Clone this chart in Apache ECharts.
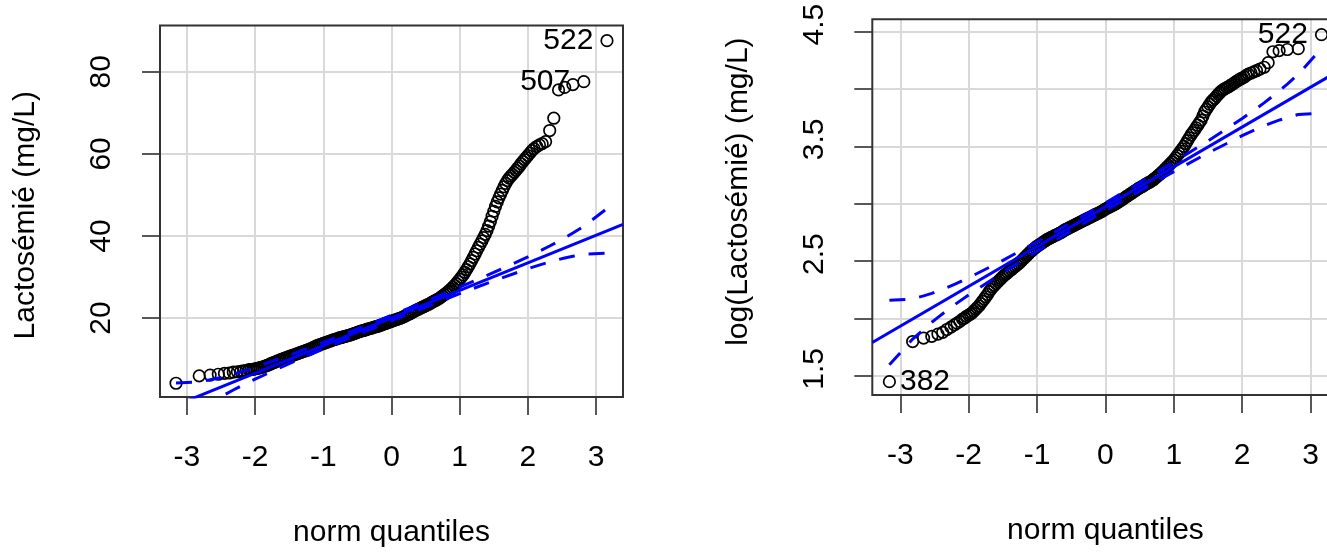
<!DOCTYPE html>
<html>
<head>
<meta charset="utf-8">
<script src="https://cdn.jsdelivr.net/npm/echarts@6/dist/echarts.min.js"></script>
<style>
  html, body { margin: 0; padding: 0; background: #fff; overflow: hidden; }
  /* the right panel runs past the window edge, as in the original screenshot */
  #main { width: 1340px; height: 553px; }
</style>
</head>
<body>
<div id="main"></div>
<script>
// theoretical normal quantiles of the plotted observations (same for both panels)
const quantiles = [
  -3.16, -2.82, -2.66, -2.54, -2.45, -2.38, -2.32, -2.26, -2.21, -2.17, -2.13, -2.09, -2.06, -2.03,
  -2.0, -1.975, -1.95, -1.925, -1.9, -1.875, -1.85, -1.825, -1.8, -1.775,
  -1.75, -1.725, -1.7, -1.675, -1.65, -1.625, -1.6, -1.575, -1.55, -1.525,
  -1.5, -1.475, -1.45, -1.425, -1.4, -1.375, -1.35, -1.325, -1.3, -1.275,
  -1.25, -1.225, -1.2, -1.175, -1.15, -1.125, -1.1, -1.075, -1.05, -1.025,
  -1.0, -0.975, -0.95, -0.925, -0.9, -0.875, -0.85, -0.825, -0.8, -0.775,
  -0.75, -0.725, -0.7, -0.675, -0.65, -0.625, -0.6, -0.575, -0.55, -0.525,
  -0.5, -0.475, -0.45, -0.425, -0.4, -0.375, -0.35, -0.325, -0.3, -0.275,
  -0.25, -0.225, -0.2, -0.175, -0.15, -0.125, -0.1, -0.075, -0.05, -0.025,
  0, 0.025, 0.05, 0.075, 0.1, 0.125, 0.15, 0.175, 0.2, 0.225,
  0.25, 0.275, 0.3, 0.325, 0.35, 0.375, 0.4, 0.425, 0.45, 0.475,
  0.5, 0.525, 0.55, 0.575, 0.6, 0.625, 0.65, 0.675, 0.7, 0.725,
  0.75, 0.775, 0.8, 0.825, 0.85, 0.875, 0.9, 0.925, 0.95, 0.975,
  1.0, 1.025, 1.05, 1.075, 1.1, 1.125, 1.15, 1.175, 1.2, 1.225,
  1.25, 1.275, 1.3, 1.325, 1.35, 1.375, 1.4, 1.425, 1.45, 1.475,
  1.5, 1.525, 1.55, 1.575, 1.6, 1.625, 1.65, 1.675, 1.7, 1.725,
  1.75, 1.775, 1.8, 1.825, 1.85, 1.875, 1.9, 1.925, 1.95, 1.975, 2.0,
  2.03, 2.06, 2.09, 2.13, 2.17, 2.21, 2.26, 2.32, 2.38, 2.45, 2.54, 2.66, 2.82, 3.16
];

// Lactosémié (mg/L)
const lactose = [
  4.1, 5.9, 6.1, 6.3, 6.5, 6.6, 6.8, 6.9, 7.0, 7.1, 7.2, 7.4, 7.45, 7.5,
  7.6, 7.7, 7.8, 7.9, 8.0, 8.15, 8.3, 8.45, 8.6, 8.8,
  9.0, 9.15, 9.3, 9.5, 9.7, 9.85, 10.0, 10.15, 10.3, 10.45,
  10.6, 10.75, 10.9, 11.05, 11.2, 11.35, 11.5, 11.65, 11.8, 11.95,
  12.1, 12.25, 12.4, 12.6, 12.8, 13.0, 13.2, 13.35, 13.5, 13.65,
  13.8, 13.95, 14.1, 14.25, 14.4, 14.55, 14.7, 14.8, 14.95, 15.1,
  15.2, 15.3, 15.45, 15.55, 15.65, 15.8, 15.9, 16.05, 16.2, 16.35,
  16.5, 16.65, 16.8, 16.9, 17.0, 17.15, 17.3, 17.4, 17.5, 17.65,
  17.8, 17.9, 18.0, 18.15, 18.3, 18.45, 18.6, 18.75, 18.9, 19.05,
  19.2, 19.35, 19.5, 19.65, 19.8, 19.95, 20.1, 20.3, 20.5, 20.7,
  20.9, 21.1, 21.3, 21.55, 21.8, 22.0, 22.2, 22.4, 22.6, 22.8,
  23.0, 23.2, 23.4, 23.65, 23.9, 24.1, 24.3, 24.55, 24.8, 25.1,
  25.4, 25.7, 26.0, 26.35, 26.7, 27.1, 27.5, 27.95, 28.4, 28.9,
  29.4, 29.95, 30.5, 31.15, 31.8, 32.5, 33.2, 34.0, 34.8, 35.6,
  36.4, 37.2, 38.0, 38.8, 39.6, 40.4, 41.3, 42.4, 43.5, 44.8,
  46.0, 47.2, 48.3, 49.3, 50.2, 51.1, 52.0, 52.8, 53.5, 54.1,
  54.6, 55.0, 55.5, 56.0, 56.5, 57.0, 57.6, 58.1, 58.6, 59.1, 59.6,
  60.2, 60.8, 61.3, 61.8, 62.2, 62.5, 63.0, 65.7, 68.7, 75.6, 76.2, 76.9, 77.6, 87.6
];

// log(Lactosémié)
const logLactose = [
  1.45, 1.80, 1.83, 1.845, 1.865, 1.88, 1.905, 1.925, 1.945, 1.96, 1.975, 1.995, 2.005, 2.02,
  2.03, 2.04, 2.05, 2.065, 2.08, 2.095, 2.11, 2.13, 2.15, 2.17,
  2.19, 2.21, 2.235, 2.255, 2.275, 2.29, 2.305, 2.32, 2.335, 2.35,
  2.365, 2.378, 2.39, 2.403, 2.415, 2.428, 2.44, 2.453, 2.465, 2.478,
  2.49, 2.505, 2.52, 2.535, 2.55, 2.565, 2.58, 2.593, 2.605, 2.618,
  2.63, 2.64, 2.65, 2.66, 2.67, 2.68, 2.69, 2.698, 2.705, 2.713,
  2.72, 2.728, 2.735, 2.743, 2.75, 2.76, 2.77, 2.778, 2.785, 2.793,
  2.80, 2.808, 2.815, 2.823, 2.83, 2.838, 2.845, 2.853, 2.86, 2.868,
  2.875, 2.883, 2.89, 2.898, 2.905, 2.913, 2.92, 2.928, 2.935, 2.945,
  2.955, 2.963, 2.97, 2.978, 2.985, 2.993, 3.0, 3.01, 3.02, 3.03,
  3.04, 3.05, 3.06, 3.07, 3.08, 3.09, 3.10, 3.11, 3.12, 3.13,
  3.14, 3.148, 3.155, 3.165, 3.175, 3.183, 3.19, 3.2, 3.21, 3.223,
  3.235, 3.248, 3.26, 3.275, 3.29, 3.305, 3.32, 3.335, 3.35, 3.365,
  3.38, 3.40, 3.42, 3.44, 3.46, 3.48, 3.50, 3.525, 3.55, 3.575,
  3.60, 3.62, 3.64, 3.663, 3.685, 3.708, 3.73, 3.765, 3.80, 3.823,
  3.845, 3.868, 3.89, 3.905, 3.92, 3.938, 3.955, 3.97, 3.985, 3.995,
  4.005, 4.013, 4.02, 4.03, 4.04, 4.05, 4.06, 4.07, 4.08, 4.088, 4.095,
  4.105, 4.12, 4.13, 4.14, 4.15, 4.16, 4.175, 4.19, 4.23, 4.325, 4.335, 4.345, 4.352, 4.474
];

// identified observations: [quantile, id]
const idsLeft = [[3.16, '522'], [2.82, '507']];
const idsRight = [[3.16, '522'], [-3.16, '382']];

// robust reference lines
const fitLeft = { intercept: 20.0, slope: 6.726 };
const fitRight = { intercept: 2.975, slope: 0.347 };

// pointwise confidence envelope
const envQ = [-3.16, -2.82, -2.66, -2.54, -2.45, -2.32, -2.2, -2.0, -1.5, -1.0, -0.5, 0,
  0.5, 1.0, 1.5, 2.0, 2.2, 2.32, 2.45, 2.54, 2.66, 2.82, 3.16];
const envUpperLeft = [4.19, 4.43, 4.94, 5.36, 5.75, 6.34, 6.93, 8.00, 10.92, 14.07, 17.32, 20.66,
  24.05, 27.52, 31.10, 34.90, 36.53, 37.55, 38.70, 39.53, 40.72, 42.36, 46.69];
const envLowerLeft = [-6.69, -2.36, -0.72, 0.47, 1.30, 2.45, 3.47, 5.10, 8.90, 12.48, 15.95, 19.34,
  22.68, 25.94, 29.08, 32.01, 33.07, 33.66, 34.26, 34.64, 35.06, 35.57, 35.81];
const envUpperRight = [2.159, 2.171, 2.198, 2.220, 2.240, 2.270, 2.301, 2.356, 2.507, 2.669, 2.837, 3.009,
  3.184, 3.363, 3.548, 3.744, 3.827, 3.880, 3.940, 3.982, 4.044, 4.129, 4.353];
const envLowerRight = [1.597, 1.821, 1.906, 1.968, 2.010, 2.070, 2.123, 2.207, 2.402, 2.587, 2.766, 2.941,
  3.113, 3.281, 3.443, 3.594, 3.649, 3.680, 3.710, 3.729, 3.752, 3.778, 3.792];

// axis ticks / labels
const xTicks = [-3, -2, -1, 0, 1, 2, 3];
const leftYTicks = [20, 40, 60, 80];
const rightYTicks = [1.5, 2, 2.5, 3, 3.5, 4, 4.5];
const rightYLabels = [1.5, 2.5, 3.5, 4.5];

const FONT = "'Liberation Sans', Arial, sans-serif";
const TEXT = '#000';
const BLUE = '#0000ff';

function points(values, ids) {
  return quantiles.map(function (q, i) {
    const hit = ids.find(function (d) { return d[0] === q; });
    if (!hit) return [q, values[i]];
    return {
      value: [q, values[i]],
      label: {
        show: true, formatter: hit[1], position: q > 0 ? 'left' : 'right',
        distance: q > 0 ? 7 : 4, fontSize: 30, color: TEXT, opacity: 1, fontFamily: FONT
      }
    };
  });
}

function pairs(xs, ys) {
  return xs.map(function (x, i) { return [x, ys[i]]; });
}

function fitLine(fit, lim) {
  return [[-lim, fit.intercept - fit.slope * lim], [lim, fit.intercept + fit.slope * lim]];
}

function xAxis(gridIndex, lim) {
  return {
    type: 'value', gridIndex: gridIndex, min: -lim, max: lim,
    name: 'norm quantiles', nameLocation: 'middle', nameGap: 121,
    nameTextStyle: { fontSize: 30, color: TEXT, fontFamily: FONT },
    axisLine: { show: false, onZero: false },
    axisTick: { show: true, customValues: xTicks, length: 18, lineStyle: { color: '#222', width: 1.5 } },
    axisLabel: { customValues: xTicks, margin: 46, fontSize: 30, color: TEXT, fontFamily: FONT },
    splitLine: { show: true, lineStyle: { color: '#d9d9d9', width: 2 } }
  };
}

function yAxis(gridIndex, min, max, name, ticks, labels, labelPad, namePad, fmt) {
  return {
    type: 'value', gridIndex: gridIndex, min: min, max: max,
    name: name, nameLocation: 'middle', nameGap: 119,
    nameTextStyle: { fontSize: 30, color: TEXT, fontFamily: FONT, padding: namePad },
    axisLine: { show: false, onZero: false },
    axisTick: { show: true, customValues: ticks, length: 18, lineStyle: { color: '#222', width: 1.5 } },
    axisLabel: {
      customValues: labels, rotate: 90, margin: 43, fontSize: 30, color: TEXT, fontFamily: FONT,
      padding: labelPad, formatter: fmt
    },
    splitLine: { show: true, lineStyle: { color: '#d9d9d9', width: 2 } }
  };
}

function scatter(idx, data) {
  return {
    type: 'scatter', xAxisIndex: idx, yAxisIndex: idx, data: data,
    symbol: 'circle', symbolSize: 11.5, silent: true, z: 2,
    itemStyle: { color: 'rgba(0,0,0,0)', borderColor: '#000', borderWidth: 1.7, opacity: 1 }
  };
}

function line(idx, data, dashed) {
  return {
    type: 'line', xAxisIndex: idx, yAxisIndex: idx, data: data,
    symbol: 'none', silent: true, z: 3, clip: true,
    lineStyle: { color: BLUE, width: 3, type: dashed ? [16, 14] : 'solid' }
  };
}

const LIM_L = 3.395, LIM_R = 3.41;

const option = {
  animation: false,
  backgroundColor: '#fff',
  grid: [
    { left: 160, top: 25.5, width: 463, height: 376.2, show: true, borderColor: '#333', borderWidth: 2, z: 1 },
    { left: 872.3, top: 19.3, width: 466.3, height: 375.7, show: true, borderColor: '#333', borderWidth: 2, z: 1 }
  ],
  xAxis: [xAxis(0, LIM_L), xAxis(1, LIM_R)],
  yAxis: [
    yAxis(0, 0.75, 91.3, 'Lactosémié (mg/L)', leftYTicks, leftYTicks, 0, [0, 8, 0, 0],
      function (v) { return String(v); }),
    yAxis(1, 1.334, 4.608, 'log(Lactosémié) (mg/L)', rightYTicks, rightYLabels, [0, 0, 0, 14], [0, 0, 0, 31],
      function (v) { return v.toFixed(1); })
  ],
  series: [
    scatter(0, points(lactose, idsLeft)),
    line(0, fitLine(fitLeft, LIM_L), false),
    line(0, pairs(envQ, envUpperLeft), true),
    line(0, pairs(envQ, envLowerLeft), true),
    scatter(1, points(logLactose, idsRight)),
    line(1, fitLine(fitRight, LIM_R), false),
    line(1, pairs(envQ, envUpperRight), true),
    line(1, pairs(envQ, envLowerRight), true)
  ]
};

const chart = echarts.init(document.getElementById('main'));
chart.setOption(option);
</script>
</body>
</html>
